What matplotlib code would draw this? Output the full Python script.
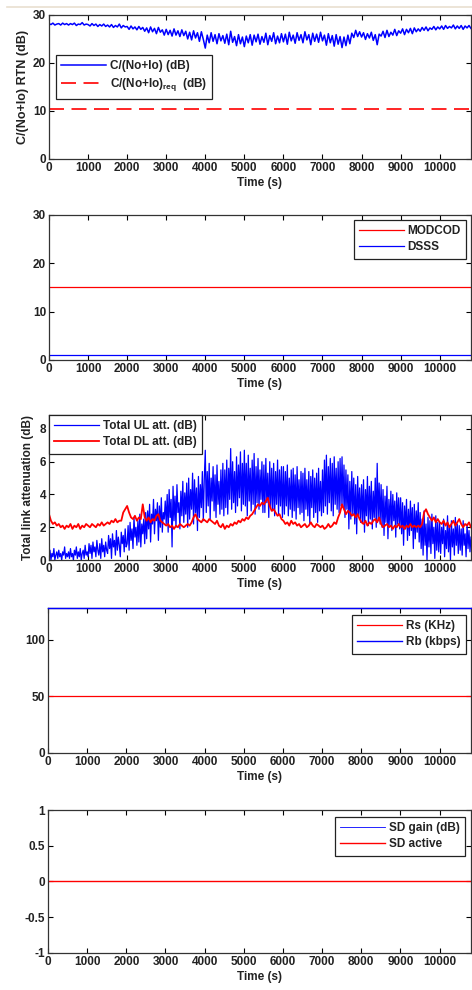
import numpy as np
import matplotlib
matplotlib.use('Agg')
import matplotlib.pyplot as plt
from matplotlib.lines import Line2D

plt.rcParams['font.family'] = ['Liberation Sans', 'DejaVu Sans']
plt.rcParams['font.weight'] = 'bold'
plt.rcParams['font.size'] = 8.5
plt.rcParams['mathtext.default'] = 'regular'

# time axes: 50 s samples, the uplink attenuation every 25 s
time_s = np.arange(0, 10801, 50)
time_ul = np.arange(0, 10801, 25)

# C/(No+Io) return link (dB), read off panel 1
cn_rtn = [
    28.2, 28.0, 28.3, 27.9, 28.1, 28.2, 27.9, 28.3, 28.0, 28.2,
    27.9, 28.2, 28.0, 28.3, 27.8, 28.1, 28.0, 28.4, 27.9, 28.1,
    28.0, 27.7, 28.2, 27.8, 28.1, 27.6, 28.0, 27.7, 28.1, 27.6,
    27.9, 27.5, 28.0, 27.4, 27.8, 27.5, 28.1, 27.3, 27.8, 27.5,
    27.6, 27.0, 27.7, 27.1, 27.5, 26.9, 27.6, 27.0, 27.4, 26.6,
    27.3, 26.3, 27.5, 26.5, 27.2, 26.1, 27.4, 26.4, 26.9, 25.8,
    27.0, 25.9, 26.8, 25.6, 27.1, 25.8, 26.7, 25.5, 26.9, 25.7,
    26.6, 25.0, 26.4, 24.8, 26.7, 25.2, 26.3, 24.5, 26.5, 24.9,
    23.1, 25.8, 24.2, 26.3, 24.5, 25.9, 24.0, 26.1, 24.6, 25.7,
    24.1, 26.0, 23.8, 26.6, 24.3, 25.5, 23.6, 25.9, 24.0, 25.4,
    23.4, 25.6, 24.2, 25.9, 23.7, 25.8, 24.4, 26.0, 23.9, 25.5,
    24.3, 26.2, 23.8, 25.7, 24.5, 26.3, 24.0, 25.6, 24.2, 26.1,
    24.4, 26.0, 23.9, 26.4, 24.6, 25.8, 24.1, 26.3, 24.7, 25.9,
    24.2, 26.5, 24.8, 25.9, 23.8, 26.2, 24.5, 26.0, 24.3, 26.4,
    24.6, 25.8, 23.7, 26.1, 24.2, 25.7, 23.5, 25.9, 23.9, 25.5,
    23.2, 25.4, 23.6, 25.8, 24.0, 26.2, 25.3, 26.8, 25.5, 26.5,
    25.4, 26.3, 24.9, 26.1, 25.2, 26.4, 24.7, 25.9, 23.8, 26.0,
    25.6, 26.6, 25.3, 26.8, 25.5, 26.4, 25.8, 27.0, 25.7, 26.7,
    26.2, 27.1, 25.9, 27.0, 26.3, 27.2, 26.1, 27.3, 26.5, 27.1,
    26.6, 27.4, 26.8, 27.5, 26.7, 27.3, 27.0, 27.6, 26.9, 27.5,
    27.1, 27.7, 27.0, 27.8, 27.2, 27.6, 27.3, 27.9, 27.1, 27.7,
    27.2, 27.8, 27.0, 27.7, 27.3, 27.8, 27.2,
]
cn_req = 10.5

# panel 2
modcod = 15
dsss = 1

# total uplink attenuation (dB), panel 3, 25 s samples
ul_att = [
    0.1, 0.6, 0.0, 0.4, 0.2, 0.7, 0.0, 0.3, 0.5, 0.1, 0.6, 0.2, 0.4, 0.0, 0.5, 0.3, 0.8, 0.1, 0.4, 0.2,
    0.5, 0.1, 0.7, 0.2, 0.4, 0.0, 0.6, 0.3, 0.8, 0.1, 0.5, 0.2, 0.7, 0.0, 0.4, 0.6, 0.1, 0.9, 0.3, 0.5,
    0.2, 1.0, 0.4, 0.9, 0.1, 1.1, 0.5, 0.8, 0.2, 1.2, 0.6, 0.3, 1.0, 0.1, 1.3, 0.5, 0.9, 0.2, 1.1, 0.6,
    0.4, 1.5, 0.7, 1.3, 0.1, 1.6, 0.8, 1.2, 0.3, 1.8, 0.6, 1.4, 0.9, 0.2, 1.7, 1.0, 1.5, 0.5, 1.9, 0.8,
    1.0, 2.1, 0.6, 2.3, 1.2, 1.9, 0.7, 2.6, 1.4, 2.0, 0.9, 2.4, 1.1, 2.8, 0.8, 2.2, 1.6, 2.5, 1.0, 2.9,
    1.3, 3.0, 1.9, 3.4, 1.1, 2.8, 2.2, 3.7, 1.6, 3.1, 2.4, 3.5, 1.2, 3.3, 2.0, 3.8, 1.7, 2.9, 2.5, 3.6,
    2.2, 4.0, 1.7, 4.3, 2.6, 3.7, 0.8, 4.5, 2.4, 3.9, 2.0, 4.6, 2.9, 3.5, 1.9, 4.2, 2.7, 4.8, 2.3, 4.1,
    2.8, 4.7, 2.0, 5.0, 2.5, 4.3, 3.1, 5.3, 2.2, 4.9, 2.9, 4.4, 1.8, 5.1, 2.6, 4.6, 3.2, 5.4, 2.4, 5.0,
    6.7, 2.9, 5.4, 3.3, 5.9, 2.5, 5.0, 3.6, 5.7, 3.0, 5.2, 2.6, 5.8, 3.4, 4.8, 2.8, 5.5, 3.1, 5.9, 2.7,
    5.5, 3.2, 6.1, 2.8, 5.6, 3.7, 6.8, 3.1, 6.0, 3.5, 5.4, 2.9, 6.3, 3.3, 5.8, 3.8, 6.6, 3.0, 5.9, 3.4,
    6.7, 3.3, 5.9, 2.7, 6.4, 3.6, 5.6, 3.0, 6.1, 3.4, 6.5, 2.8, 5.7, 3.5, 6.2, 3.1, 5.5, 3.7, 6.0, 2.9,
    5.8, 2.9, 6.2, 3.5, 5.3, 2.6, 6.0, 3.2, 5.6, 3.0, 5.9, 2.7, 5.4, 3.4, 6.1, 2.8, 5.5, 3.3, 5.7, 2.6,
    5.7, 2.8, 5.4, 3.3, 5.8, 2.7, 5.0, 3.1, 5.5, 2.6, 5.6, 3.0, 5.2, 2.5, 5.7, 3.2, 4.9, 2.8, 5.4, 2.9,
    5.3, 2.4, 5.6, 3.1, 4.9, 2.7, 5.4, 2.2, 5.1, 3.2, 5.5, 2.6, 5.0, 2.9, 5.3, 2.3, 5.6, 3.0, 4.8, 2.7,
    5.5, 2.9, 6.1, 3.3, 6.4, 2.8, 5.7, 3.5, 6.2, 3.0, 5.9, 2.7, 6.3, 3.4, 5.6, 3.1, 6.0, 2.9, 6.2, 3.3,
    6.3, 3.2, 5.8, 2.6, 5.5, 3.1, 5.2, 1.9, 4.8, 2.5, 5.4, 2.8, 5.0, 2.2, 4.6, 1.6, 5.1, 2.7, 4.4, 2.3,
    4.6, 2.3, 4.9, 1.7, 4.3, 2.7, 5.1, 2.1, 4.5, 2.5, 4.8, 1.9, 4.2, 2.6, 5.0, 2.0, 5.9, 2.4, 4.7, 2.2,
    4.6, 2.0, 4.3, 1.5, 3.9, 2.3, 4.5, 1.3, 3.7, 2.1, 4.2, 1.8, 4.0, 2.4, 3.6, 1.4, 4.1, 2.2, 3.8, 1.9,
    3.8, 1.6, 3.5, 0.9, 3.3, 1.9, 3.7, 1.2, 3.1, 1.5, 3.6, 1.8, 3.2, 0.7, 3.4, 1.3, 3.0, 1.7, 3.5, 1.1,
    2.9, 0.7, 2.5, 0.3, 3.0, 0.9, 2.2, 0.0, 2.6, 0.8, 2.4, 0.4, 2.8, 1.0, 2.0, 0.1, 2.7, 0.6, 2.3, 0.5,
    2.3, 0.4, 2.0, 1.0, 2.5, 0.2, 1.8, 0.7, 2.7, 0.5, 2.1, 0.0, 2.4, 0.8, 1.9, 0.3, 2.6, 0.9, 2.2, 0.4,
    2.1, 0.6, 1.9, 0.3, 2.4, 0.9, 1.6, 0.2, 2.2, 0.7, 1.8, 0.5, 1.4,
]
# total downlink attenuation (dB), 50 s samples
dl_att = [
    2.8, 2.4, 2.2, 2.3, 2.1, 2.2, 2.0, 2.1, 1.9, 2.1,
    2.0, 2.2, 1.9, 2.1, 2.0, 2.2, 1.9, 2.1, 2.0, 2.2,
    2.1, 2.0, 2.2, 2.1, 2.0, 2.2, 2.1, 2.3, 2.1, 2.2,
    2.3, 2.2, 2.4, 2.3, 2.5, 2.3, 2.4, 2.4, 2.9, 3.1,
    3.3, 2.9, 2.6, 2.5, 2.7, 2.4, 2.6, 2.5, 3.4, 2.6,
    2.4, 2.6, 2.3, 2.5, 2.4, 2.7, 2.8, 2.4, 2.3, 2.2,
    2.1, 2.2, 2.0, 2.1, 1.9, 2.1, 2.0, 2.2, 2.1, 2.0,
    2.1, 2.2, 2.1, 2.3, 2.6, 2.8, 2.5, 2.4, 2.3, 2.5,
    2.4, 2.3, 2.5, 2.4, 2.3, 2.2, 2.4, 2.1, 2.0, 2.2,
    1.9, 2.1, 2.0, 2.2, 2.1, 2.3, 2.2, 2.4, 2.3, 2.5,
    2.4, 2.6, 2.5, 2.7, 2.8, 3.0, 3.2, 3.4, 3.3, 3.5,
    3.4, 3.6, 3.8, 3.3, 3.0, 3.1, 2.9, 2.7, 2.8, 2.5,
    2.4, 2.2, 2.3, 2.1, 2.4, 2.2, 2.3, 2.1, 2.2, 2.0,
    2.1, 2.2, 2.0, 2.1, 2.3, 2.1, 2.0, 2.2, 2.1, 2.0,
    2.1, 1.9, 2.0, 2.2, 2.0, 2.1, 2.3, 2.2, 2.6, 2.9,
    3.4, 3.1, 2.8, 3.0, 2.9, 2.7, 2.8, 2.6, 2.8, 2.5,
    2.3, 2.2, 2.4, 2.1, 2.3, 2.2, 2.4, 2.5, 2.3, 2.6,
    2.2, 2.0, 2.1, 2.2, 2.0, 2.1, 1.9, 2.1, 2.0, 2.2,
    2.0, 2.1, 1.9, 2.1, 2.0, 2.2, 2.0, 2.1, 2.0, 2.1,
    2.0, 2.2, 2.9, 3.1, 2.8, 2.6, 2.4, 2.6, 2.3, 2.5,
    2.3, 2.2, 2.4, 2.1, 2.3, 2.0, 2.2, 2.4, 2.1, 2.3,
    2.5, 2.2, 2.0, 2.2, 2.1, 2.3, 2.0,
]

# panel 4 and 5
rs_khz = 50
rb_kbps = 128
sd_gain = 0
sd_active = 0

xticks = list(range(0, 10001, 1000))
BLUE, RED = '#0000ff', '#ff0000'

fig = plt.figure(figsize=(4.72, 9.9), dpi=100)
fig.add_artist(Line2D([0.015, 1.0], [1 - 7 / 990, 1 - 7 / 990], color='#e9dfd0', lw=1.2))

# axes boxes [left, bottom, width, height]
boxes = [
    [0.1038, 0.8394, 0.894, 0.1455],
    [0.1038, 0.6364, 0.894, 0.1465],
    [0.1038, 0.4343, 0.894, 0.1465],
    [0.1017, 0.2394, 0.896, 0.1465],
    [0.1017, 0.0374, 0.896, 0.1444],
]
axes = [fig.add_axes(b) for b in boxes]


def style(ax):
    ax.set_xlim(0, 10800)
    ax.set_xticks(xticks)
    ax.tick_params(direction='in', top=True, right=True, length=3.5, width=0.8,
                   labelsize=8.5, pad=2)
    for lab in ax.get_xticklabels() + ax.get_yticklabels():
        lab.set_fontweight('bold')
        lab.set_color('#222222')
    for s in ax.spines.values():
        s.set_linewidth(0.9)
        s.set_color('#333333')
    ax.set_xlabel('Time (s)', fontsize=8.5, fontweight='bold', labelpad=2,
                  color='#222222')


def legend(ax, anchor, loc):
    lg = ax.legend(loc=loc, bbox_to_anchor=anchor, borderaxespad=0, fancybox=False,
                   edgecolor='#222222', framealpha=1, handlelength=3.8,
                   prop={'size': 8.5, 'weight': 'bold'}, borderpad=0.45,
                   labelspacing=0.35, handletextpad=0.3)
    lg.get_frame().set_linewidth(0.9)
    for t in lg.get_texts():
        t.set_color('#222222')


# panel 1
ax = axes[0]
ax.plot(time_s, cn_rtn, color=BLUE, lw=1.1, label='C/(No+Io) (dB)')
ax.plot([0, 10800], [cn_req, cn_req], color=RED, lw=1.2, ls=(0, (9, 4.5)),
        label='C/(No+Io)$_{req}$  (dB)')
ax.set_ylim(0, 30)
ax.set_yticks([0, 10, 20, 30])
ax.set_ylabel('C/(No+Io) RTN (dB)', fontsize=9, fontweight='bold', labelpad=3,
              color='#222222')
style(ax)
legend(ax, (0.017, 0.722), 'upper left')

# panel 2
ax = axes[1]
ax.plot([0, 10800], [modcod, modcod], color=RED, lw=0.9, label='MODCOD')
ax.plot([0, 10800], [dsss, dsss], color=BLUE, lw=0.9, label='DSSS')
ax.set_ylim(0, 30)
ax.set_yticks([0, 10, 20, 30])
style(ax)
legend(ax, (0.988, 0.966), 'upper right')

# panel 3
ax = axes[2]
ax.plot(time_ul, ul_att, color=BLUE, lw=0.9, label='Total UL att. (dB)')
ax.plot(time_s, dl_att, color=RED, lw=1.3, label='Total DL att. (dB)')
ax.set_ylim(0, 8.85)
ax.set_yticks([0, 2, 4, 6, 8])
ax.set_ylabel('Total link attenuation (dB)', fontsize=8.5, fontweight='bold',
              labelpad=4, color='#222222')
style(ax)
legend(ax, (0.0, 1.0), 'upper left')

# panel 4
ax = axes[3]
ax.plot([0, 10800], [rs_khz, rs_khz], color=RED, lw=0.9, label='Rs (KHz)')
ax.plot([0, 10800], [rb_kbps, rb_kbps], color=BLUE, lw=1.0, label='Rb (kbps)',
        zorder=3, clip_on=False)
ax.set_ylim(0, 128)
ax.set_yticks([0, 50, 100])
style(ax)
legend(ax, (0.988, 0.952), 'upper right')

# panel 5
ax = axes[4]
ax.plot([0, 10800], [sd_gain, sd_gain], color=BLUE, lw=0.6, label='SD gain (dB)')
ax.plot([0, 10800], [sd_active, sd_active], color=RED, lw=1.0, label='SD active')
ax.set_ylim(-1, 1)
ax.set_yticks([-1, -0.5, 0, 0.5, 1])
ax.set_yticklabels(['-1', '-0.5', '0', '0.5', '1'])
style(ax)
legend(ax, (0.986, 0.951), 'upper right')

fig.savefig('out.png', dpi=100)
